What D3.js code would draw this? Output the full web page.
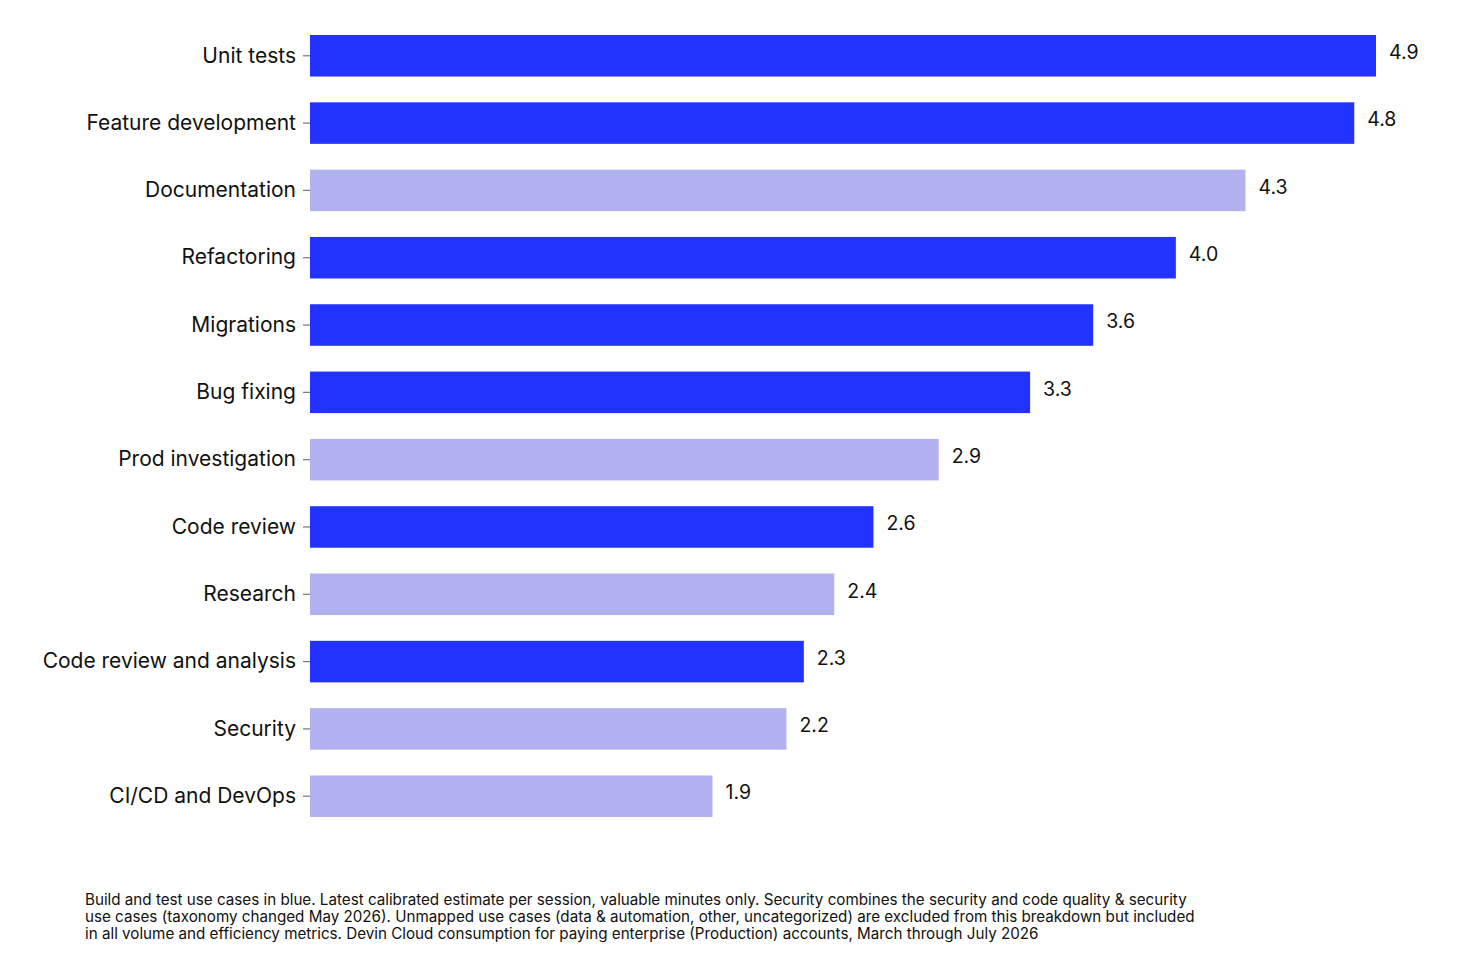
<!DOCTYPE html>
<html>
<head>
<meta charset="utf-8">
<script src="https://cdn.jsdelivr.net/npm/d3@7"></script>
<style>
  html, body { margin: 0; padding: 0; background: #fff; }
  #chart { width: 1464px; height: 964px; }
  text { font-family: Inter, "Noto Sans", sans-serif; }
</style>
</head>
<body>
<div id="chart"></div>
<script>
const categories = [
  "Unit tests", "Feature development", "Documentation", "Refactoring",
  "Migrations", "Bug fixing", "Prod investigation", "Code review",
  "Research", "Code review and analysis", "Security", "CI/CD and DevOps"
];
const values = [4.90, 4.80, 4.30, 3.98, 3.60, 3.31, 2.89, 2.59, 2.41, 2.27, 2.19, 1.85];
const buildAndTest = [true, true, false, true, true, true, false, true, false, true, false, false];
const footnote = [
  "Build and test use cases in blue. Latest calibrated estimate per session, valuable minutes only. Security combines the security and code quality & security",
  "use cases (taxonomy changed May 2026). Unmapped use cases (data & automation, other, uncategorized) are excluded from this breakdown but included",
  "in all volume and efficiency metrics. Devin Cloud consumption for paying enterprise (Production) accounts, March through July 2026"
];

(function () {
  const WIDTH = 1464, HEIGHT = 964;
  const MARGIN = { top: 35, bottom: 147, left: 310 };
  const BLUE = "#2333ff", LAVENDER = "#b2b2f1";

  const data = categories.map((c, i) => ({ name: c, value: values[i], blue: buildAndTest[i] }));

  const svg = d3.select("#chart").append("svg")
    .attr("width", WIDTH)
    .attr("height", HEIGHT);

  const x = d3.scaleLinear()
    .domain([0, 4.9])
    .range([MARGIN.left, 1376]);

  const y = d3.scaleBand()
    .domain(categories)
    .range([MARGIN.top, HEIGHT - MARGIN.bottom])
    .paddingInner(0.383)
    .paddingOuter(0);

  svg.append("g")
    .selectAll("rect")
    .data(data)
    .join("rect")
      .attr("x", x(0))
      .attr("y", d => y(d.name))
      .attr("width", d => x(d.value) - x(0))
      .attr("height", y.bandwidth())
      .attr("fill", d => d.blue ? BLUE : LAVENDER);

  const yAxis = svg.append("g")
    .attr("transform", `translate(${x(0)},0)`)
    .call(d3.axisLeft(y).tickSize(7).tickPadding(7));
  yAxis.select(".domain").remove();
  yAxis.selectAll(".tick line").attr("stroke", "#777").attr("stroke-width", 1.2);
  yAxis.selectAll(".tick text")
    .attr("font-size", "21px")
    .attr("fill", "#111");

  svg.append("g")
    .selectAll("text")
    .data(data)
    .join("text")
      .attr("x", d => x(d.value) + 13)
      .attr("y", d => y(d.name) + y.bandwidth() / 2 - 3)
      .attr("dy", "0.32em")
      .attr("font-size", "19.5px")
      .attr("fill", "#111")
      .text(d => d3.format(".1f")(d.value));

  svg.append("g")
    .selectAll("text")
    .data(footnote)
    .join("text")
      .attr("x", 85)
      .attr("y", (d, i) => 905 + i * 17)
      .attr("font-size", "15.2px")
      .attr("fill", "#111")
      .text(d => d);
})();
</script>
</body>
</html>
